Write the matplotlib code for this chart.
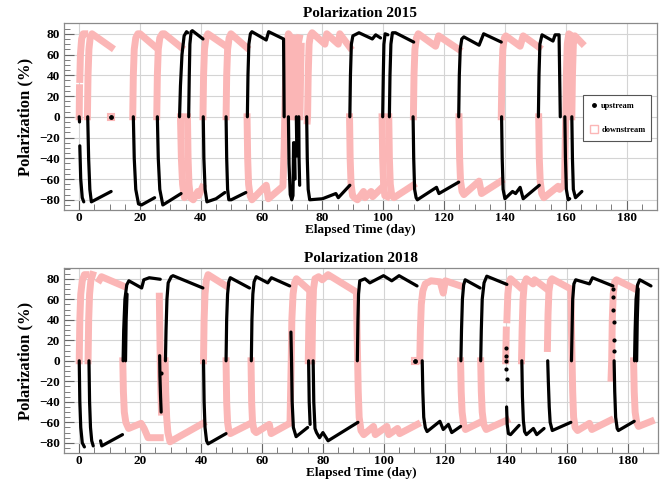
import matplotlib
matplotlib.use('Agg')
import matplotlib.pyplot as plt
from matplotlib.lines import Line2D
from matplotlib.ticker import MultipleLocator

# target polarization (%) vs elapsed time (day).
# each inner list is one build-up / decay stretch, gaps are annealing jumps
up_2015 = [
    [(0.0, 0), (0.1, -5)],
    [(0.2, -28), (0.5, -60), (1.0, -78), (1.5, -82)],
    [(2.8, 0), (3.1, -40), (3.5, -70), (4.0, -82), (10.5, -72)],
    [(10.5, 0)],
    [(17.8, 0), (18.1, -40), (18.6, -70), (19.5, -84), (20.5, -85), (24.8, -78)],
    [(25.7, 0), (26.0, -40), (26.5, -70), (27.5, -85), (33.5, -74)],
    [(33.0, 0), (33.3, 30), (33.8, 60), (34.5, 78), (35.3, 82), (35.7, 81)],
    [(36.0, 0), (36.2, 40), (36.4, 70), (36.8, 82), (37.2, 83), (40.7, 75)],
    [(40.8, 0), (41.0, -40), (41.4, -70), (42.0, -82), (45.0, -79), (47.9, -73)],
    [(48.3, 0), (48.5, -40), (48.8, -70), (49.2, -80), (50.0, -80), (54.8, -73)],
    [(55.3, 0), (55.5, 40), (55.8, 70), (56.3, 80), (56.8, 82), (61.5, 74), (62.3, 82),
     (67.2, 75), (67.3, 40), (67.4, 0)],
    [(68.8, 0), (69.0, -45), (69.4, -75), (69.9, -80), (70.3, -76), (70.5, -25), (70.8, -25), (71.0, -60)],
    [(71.4, 0), (71.5, -20), (71.6, -38)],
    [(72.2, 0), (72.3, -40), (72.5, -66)],
    [(74.8, 0), (75.0, -40), (75.3, -70), (75.8, -80), (80.0, -79), (84.4, -74), (85.2, -78), (89.0, -66)],
    [(89.0, 0), (89.2, 40), (89.5, 70), (90.0, 78), (92.0, 81), (96.4, 75), (97.5, 79), (99.1, 76)],
    [(99.8, 0), (100.0, 40), (100.2, 70), (100.6, 80), (101.5, 79)],
    [(102.0, 0), (102.2, 40), (102.5, 70), (103.0, 81), (104.0, 81), (110.0, 72)],
    [(109.8, 0), (110.0, -40), (110.3, -70), (110.8, -78), (111.2, -80), (117.5, -68), (118.3, -74), (124.8, -63)],
    [(124.8, 0), (125.0, 40), (125.3, 65), (125.8, 75), (126.5, 77), (131.5, 69), (133.0, 80), (138.8, 72)],
    [(138.9, 0), (139.1, -40), (139.4, -70), (140.0, -79), (142.5, -72), (143.5, -74), (145.0, -68),
     (146.0, -79), (151.3, -66)],
    [(151.0, 0), (151.2, 40), (151.5, 70), (152.2, 79), (155.8, 73), (156.5, 79), (157.8, 79),
     (158.0, 40), (158.2, 0)],
    [(159.7, 0), (159.9, -40), (160.2, -70), (160.8, -80), (161.3, -79)],
    [(162.0, 0), (162.2, -40), (162.5, -70), (163.2, -78), (165.3, -72)],
]

down_2015 = [
    [(0.0, 0), (0.1, 28)],
    [(0.2, 36), (0.4, 60), (0.8, 75), (1.3, 80), (1.8, 80)],
    [(2.7, 0), (2.9, 40), (3.2, 65), (3.6, 76), (4.2, 80), (10.5, 67)],
    [(10.5, 0)],
    [(17.6, 0), (17.8, 40), (18.1, 65), (18.6, 76), (19.3, 80), (20.0, 80), (24.8, 68)],
    [(25.5, 0), (25.7, 40), (26.0, 65), (26.5, 76), (27.3, 80), (28.0, 80), (33.5, 67)],
    [(33.3, 0), (33.6, -40), (34.0, -65), (34.6, -78), (35.3, -75)],
    [(35.6, 0), (35.8, -40), (36.1, -65), (36.6, -78), (37.5, -80), (39.0, -72), (39.3, -76), (40.5, -68)],
    [(40.7, 0), (40.9, 40), (41.2, 65), (41.7, 76), (42.3, 80), (47.8, 69)],
    [(48.3, 0), (48.5, 40), (48.8, 65), (49.3, 76), (49.9, 80), (55.0, 67)],
    [(55.2, 0), (55.4, -40), (55.7, -65), (56.2, -76), (56.8, -80), (61.5, -66), (62.2, -79), (67.0, -67),
     (67.4, -30), (67.6, 0), (67.9, 40), (68.3, 70), (68.8, 80), (69.3, 78)],
    [(69.7, 0), (69.9, 40), (70.2, 70), (70.5, 76)],
    [(71.5, 0), (71.7, 40), (72.0, 70), (72.4, 76)],
    [(72.6, 0), (72.8, 40), (73.0, 68)],
    [(75.0, -4), (75.1, 0), (75.3, 40), (75.6, 70), (76.0, 78), (76.6, 81), (80.8, 70), (81.4, 80),
     (85.2, 70), (85.7, 80), (89.0, 67)],
    [(88.9, 0), (89.1, -40), (89.4, -65), (89.9, -76), (90.5, -78), (91.5, -80), (93.5, -72), (94.0, -78),
     (96.0, -72), (96.5, -77), (99.3, -69)],
    [(99.6, 0), (99.8, -40), (100.1, -65), (100.5, -76), (101.3, -77)],
    [(101.8, 0), (102.0, -40), (102.3, -65), (102.8, -76), (103.5, -78), (109.8, -66)],
    [(109.9, 0), (110.1, 40), (110.4, 65), (110.9, 76), (111.5, 80), (117.2, 68), (118.2, 78), (124.8, 65)],
    [(124.9, 0), (125.1, -40), (125.4, -62), (125.9, -72), (126.5, -75), (131.5, -62), (132.3, -74), (138.7, -62)],
    [(138.8, 0), (139.0, 40), (139.3, 65), (139.8, 76), (140.3, 78), (145.0, 68), (146.0, 78), (151.2, 67)],
    [(151.1, 0), (151.3, -40), (151.6, -62), (152.1, -74), (152.8, -78), (157.5, -67), (158.0, -70),
     (159.6, -65), (159.8, -30), (160.0, 0), (160.2, 40), (160.5, 70), (161.0, 80), (161.5, 79)],
    [(162.0, 0), (162.2, 40), (162.5, 70), (163.0, 78), (165.3, 71)],
]

up_2018 = [
    [(0.0, 0), (0.2, -40), (0.5, -65), (1.0, -80), (1.7, -84)],
    [(3.2, 0), (3.4, -40), (3.7, -65), (4.1, -78), (4.6, -83)],
    [(7.0, -78), (7.4, -83), (14.2, -72)],
    [(14.4, 0), (14.6, 30), (15.0, 60), (15.6, 74), (16.3, 78), (20.5, 71), (21.2, 79), (23.0, 81), (26.6, 79.5)],
    [(15.2, 0), (15.4, 40), (15.7, 65)],
    [(26.4, 5), (26.5, -15), (26.7, -35), (26.9, -50)],
    [(28.3, 0), (28.5, 30), (28.8, 60), (29.2, 76), (30.2, 82), (30.8, 83), (40.6, 71)],
    [(40.8, 0), (41.0, -40), (41.3, -65), (41.8, -78), (42.3, -81), (48.2, -71)],
    [(48.2, 0), (48.4, 40), (48.7, 65), (49.1, 77), (49.6, 81), (55.9, 71)],
    [(56.5, 0), (56.7, 40), (57.0, 65), (57.4, 77), (58.1, 82), (61.9, 76), (63.1, 81), (69.1, 73)],
    [(69.5, 28), (69.7, 0), (69.9, -40), (70.3, -65), (71.2, -74), (75.0, -65)],
    [(75.3, 0), (75.5, -40), (75.8, -62)],
    [(76.8, 0), (77.0, -40), (77.4, -66), (77.9, -70), (78.9, -75), (80.0, -70), (81.7, -78), (91.5, -60)],
    [(91.3, 0), (91.5, 40), (91.7, 65), (92.1, 78), (93.8, 80), (95.4, 76), (99.9, 83), (102.6, 78),
     (105.0, 83), (110.9, 73)],
    [(110.3, 0)],
    [(112.6, 0), (112.8, -30), (113.1, -55), (113.6, -65), (114.2, -69), (118.4, -59), (119.5, -67),
     (121.2, -62), (122.3, -70), (125.2, -64)],
    [(125.3, 0), (125.5, 30), (125.8, 60), (126.2, 74), (126.7, 79), (131.6, 71)],
    [(131.8, 0), (132.0, 30), (132.3, 60), (132.9, 76), (133.8, 82.5), (140.4, 74.5)],
    [(140.3, -45), (140.5, -62), (140.9, -71), (141.6, -72), (144.4, -63)],
    [(145.3, 0), (145.5, -35), (145.8, -58), (146.2, -69), (146.8, -72), (149.1, -66), (150.2, -72), (152.6, -66)],
    [(153.8, 0), (154.0, -20), (154.3, -45), (154.6, -60), (155.3, -68), (161.4, -60)],
    [(161.6, 0), (161.8, 30), (162.0, 60), (162.4, 75), (163.0, 79), (167.5, 75), (168.5, 81), (175.2, 73)],
    [(175.6, 0), (175.8, -30), (176.1, -55), (176.6, -66), (177.0, -68), (182.2, -59)],
    [(182.3, 0), (182.5, 30), (182.8, 60), (183.3, 74), (184.0, 79), (187.7, 73)],
    [(183.0, 0), (183.2, 40), (183.5, 70)],
]

# isolated upstream readings (sparse dots)
up_2018_dots = [(26.8, -12), (140.1, 12), (140.15, 5), (140.2, 0), (140.25, -8), (140.3, -18),
                (175.2, 70), (175.3, 62), (175.35, 50), (175.4, 38), (175.5, 20), (175.55, 10)]

down_2018 = [
    [(0.0, 0), (0.2, 40), (0.5, 65), (1.0, 78), (1.7, 84), (2.2, 84)],
    [(2.9, 0), (3.1, 40), (3.4, 65), (3.8, 78), (4.4, 84)],
    [(6.7, 79), (7.3, 82), (14.4, 73)],
    [(14.3, 0), (14.5, -30), (14.8, -50), (15.3, -60), (16.2, -66), (20.3, -61), (21.3, -66), (22.6, -75), (26.6, -75)],
    [(26.3, 63), (26.4, 40), (26.6, 0), (26.8, -30), (27.0, -50)],
    [(28.2, 0), (28.4, -30), (28.7, -55), (29.1, -70), (29.8, -79), (40.6, -61)],
    [(40.8, 0), (41.0, 40), (41.3, 65), (41.7, 78), (42.3, 84), (48.2, 73)],
    [(48.2, 0), (48.4, -40), (48.7, -60), (49.1, -68), (49.6, -71), (55.6, -62)],
    [(56.4, 0), (56.6, -40), (56.9, -60), (57.4, -68), (58.1, -70), (62.4, -62), (63.0, -71), (69.1, -61)],
    [(69.2, -60), (69.4, -30), (69.6, 0), (69.8, 40), (70.2, 65), (70.7, 76), (71.3, 80), (75.1, 70)],
    [(75.2, 0), (75.4, 40), (75.7, 68)],
    [(76.4, 0), (76.6, 40), (76.9, 70), (77.4, 80), (78.6, 82), (79.8, 79), (81.7, 84), (91.0, 67),
     (91.2, 30), (91.4, 0), (91.6, -30), (91.9, -55), (92.5, -68), (93.4, -72), (96.6, -64), (97.2, -72),
     (101.0, -64), (101.6, -72), (104.5, -66), (105.2, -71), (111.0, -62)],
    [(110.3, 0)],
    [(111.8, 0), (112.0, 30), (112.3, 55), (112.8, 68), (113.6, 75), (115.5, 78), (118.5, 77), (119.5, 66),
     (120.2, 78), (125.2, 73)],
    [(125.2, 0), (125.4, -30), (125.7, -50), (126.2, -62), (126.8, -67), (131.6, -60)],
    [(131.8, 0), (132.0, -30), (132.3, -50), (132.8, -62), (133.6, -67), (140.3, -58)],
    [(140.0, 0), (140.2, 30)],
    [(140.4, 40), (140.7, 65), (141.1, 76), (141.6, 80), (144.6, 72)],
    [(145.2, 0), (145.4, 30), (145.7, 60), (146.1, 75), (146.8, 80), (149.0, 75), (149.5, 79), (153.5, 70)],
    [(153.7, 12), (153.9, 45), (154.2, 68), (154.7, 78), (155.2, 80), (161.4, 70), (161.6, 30), (161.8, 0),
     (162.0, -30), (162.3, -55), (162.8, -65), (163.6, -68), (167.5, -61), (168.3, -67), (174.4, -58)],
    [(174.6, -17), (174.8, 0), (175.0, 40), (175.3, 65), (175.8, 77), (176.4, 79), (182.5, 70)],
    [(182.0, 0), (182.2, -30), (182.5, -50), (183.0, -60), (183.6, -64), (187.8, -59)],
]

titles = ['Polarization 2015', 'Polarization 2018']
x_ticks = [0, 20, 40, 60, 80, 100, 120, 140, 160, 180]
y_ticks = [-80, -60, -40, -20, 0, 20, 40, 60, 80]

PINK = '#fbb6b6'
SERIF = 'Liberation Serif'


def draw_series(ax, segments, color, lw, z, pink=False):
    for seg in segments:
        d = [p[0] for p in seg]
        v = [p[1] for p in seg]
        if len(seg) == 1:
            if pink:
                ax.plot(d, v, ls='none', marker='s', ms=5, mfc='none', mec=color, mew=1.5, zorder=z)
            else:
                ax.plot(d, v, ls='none', marker='o', ms=2.5, color=color, zorder=z)
        else:
            ax.plot(d, v, color=color, lw=lw, solid_capstyle='projecting' if pink else 'round',
                    solid_joinstyle='round', zorder=z)


fig = plt.figure(figsize=(6.68, 4.82), dpi=100)
ax_top = fig.add_axes([0.0958, 0.5640, 0.8877, 0.3885])
ax_bot = fig.add_axes([0.0958, 0.0600, 0.8892, 0.3840])

panels = [(ax_top, up_2015, down_2015, []), (ax_bot, up_2018, down_2018, up_2018_dots)]
for (ax, up, down, dots), title in zip(panels, titles):
    draw_series(ax, down, PINK, 5.0, 2, pink=True)
    draw_series(ax, up, 'black', 2.3, 3)
    if dots:
        ax.plot([p[0] for p in dots], [p[1] for p in dots], ls='none', marker='o', ms=2,
                color='black', zorder=3)

    ax.set_xlim(-5, 190)
    ax.set_ylim(-90, 90.5)
    ax.set_xticks(x_ticks)
    ax.set_yticks(y_ticks)
    ax.xaxis.set_minor_locator(MultipleLocator(5))
    ax.yaxis.set_minor_locator(MultipleLocator(5))
    ax.tick_params(which='both', direction='in', top=False, right=False, color='#666666',
                   labelsize=9.5)
    ax.tick_params(axis='x', pad=1.5)
    ax.tick_params(axis='y', pad=3)
    ax.tick_params(which='major', length=7)
    ax.tick_params(which='minor', length=4)
    for lab in ax.get_xticklabels() + ax.get_yticklabels():
        lab.set_fontfamily(SERIF)
        lab.set_fontweight('bold')
    ax.grid(True, which='major', color='#d4d4d4', lw=0.8)
    ax.set_axisbelow(True)
    for sp in ax.spines.values():
        sp.set_color('#8a8a8a')
        sp.set_linewidth(0.9)

    ax.set_title(title, fontsize=11, fontweight='bold', family=SERIF, pad=4)
    ax.set_xlabel('Elapsed Time (day)', fontsize=9.5, fontweight='bold', family=SERIF, labelpad=0)
    ax.set_ylabel('Polarization (%)', fontsize=12, fontweight='bold', family=SERIF, labelpad=4)

handles = [Line2D([], [], ls='none', marker='o', ms=2.5, color='black'),
           Line2D([], [], ls='none', marker='s', ms=6, mfc='none', mec=PINK, mew=1)]
leg = ax_top.legend(handles, ['upstream', 'downstream'], loc='center',
                    bbox_to_anchor=(0.8728, 0.7054, 0.1018, 0.0996), bbox_transform=fig.transFigure,
                    mode='expand', borderaxespad=0, fancybox=False, framealpha=1,
                    edgecolor='#555555', labelspacing=1.9, handlelength=0.8, handletextpad=0.5,
                    borderpad=0.9, prop={'family': SERIF, 'weight': 'bold', 'size': 6})
leg.get_frame().set_linewidth(0.8)

fig.savefig('out.png', dpi=100)
